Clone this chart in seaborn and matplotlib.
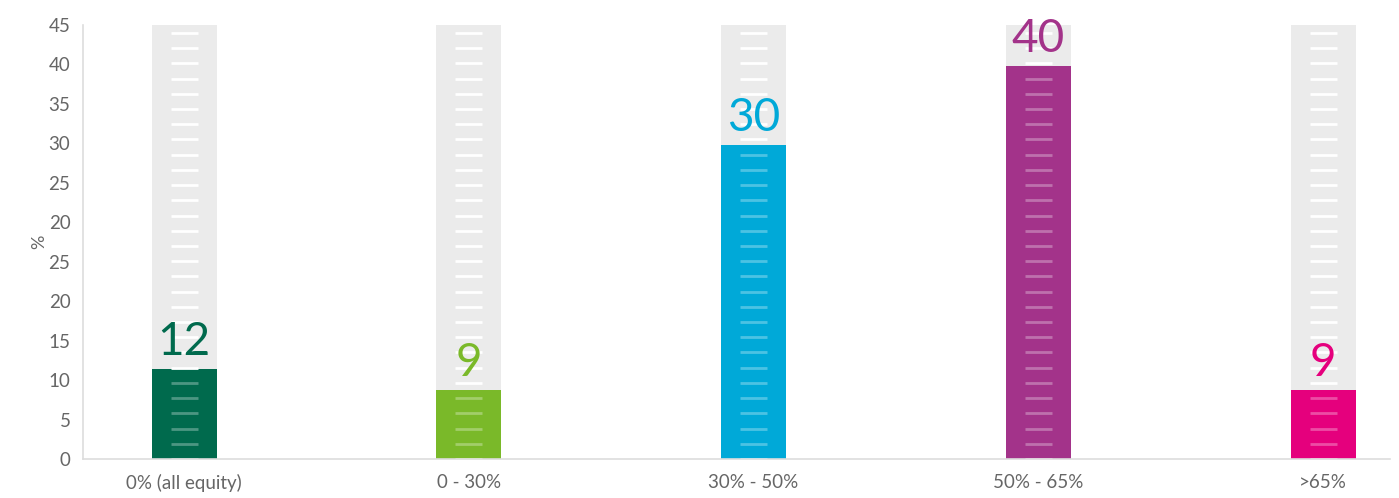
import numpy as np
import pandas as pd
import matplotlib
matplotlib.use("Agg")
import matplotlib.pyplot as plt
import seaborn as sns

categories = ["0% (all equity)", "0 - 30%", "30% - 50%", "50% - 65%", ">65%"]
value_labels = [12, 9, 30, 40, 9]
bar_heights = [11.4, 8.7, 39.8, 49.8, 8.7]   # in axis units (axis ticks are 5 apart)
colors = ["#006A4D", "#7AB929", "#00A9D8", "#A3338A", "#E5007D"]
ytick_labels = ["0", "5", "10", "15", "20", "25", "20", "25", "30", "35", "40", "45"]
y_max = 55

sns.set_theme(style="white")
plt.rcParams["font.family"] = ["Lato", "DejaVu Sans"]

df = pd.DataFrame({"cat": categories, "h": bar_heights, "bg": [y_max] * len(categories)})

fig = plt.figure(figsize=(13.99, 4.98), dpi=100)
ax = fig.add_axes([0.0593, 0.0783, 0.9343, 0.8715])

sns.barplot(data=df, x="cat", y="bg", color="#EBEBEB", width=0.228, ax=ax,
            saturation=1, edgecolor="none")
sns.barplot(data=df, x="cat", y="h", hue="cat", palette=colors, width=0.228, ax=ax,
            saturation=1, edgecolor="none", legend=False)

# scale dashes
dash_y = np.linspace(0, 54, 29)
half = 0.0475
for i, h in enumerate(bar_heights):
    above = dash_y[dash_y > h]
    below = dash_y[dash_y <= h]
    ax.hlines(above, i - half, i + half, colors="white", linewidth=2, zorder=3)
    ax.hlines(below, i - half, i + half, colors=(1, 1, 1, 0.3), linewidth=2, zorder=3)
    ax.text(i, h + 0.8, str(value_labels[i]), ha="center", va="bottom",
            fontsize=33, color=colors[i], zorder=4)

ax.set_xlim(-0.355, 4.235)
ax.set_ylim(0, y_max)
ax.set_yticks(np.arange(0, y_max + 1, 5))
ax.set_yticklabels(ytick_labels)
ax.set_xlabel("")
ax.set_ylabel("%", fontsize=13, color="#666666", labelpad=1)

for s in ["top", "right"]:
    ax.spines[s].set_visible(False)
for s in ["left", "bottom"]:
    ax.spines[s].set_color("#DDDDDD")
    ax.spines[s].set_linewidth(1.2)
ax.tick_params(axis="both", colors="#CCCCCC", length=5, width=1, labelsize=13.5,
               labelcolor="#666666")
ax.tick_params(axis="y", pad=4)
ax.tick_params(axis="x", pad=6)

fig.savefig("out.png", dpi=100)
